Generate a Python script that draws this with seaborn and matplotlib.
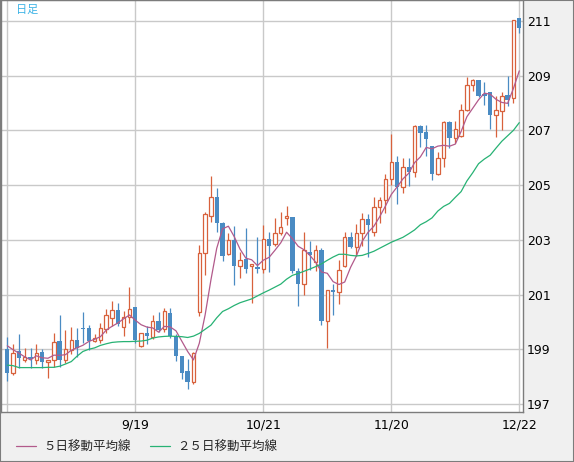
import numpy as np
import pandas as pd
import matplotlib
matplotlib.use("Agg")
import matplotlib.pyplot as plt
import matplotlib.font_manager as fm
from matplotlib.patches import Rectangle
import seaborn as sns

# ---------------- data ----------------
opens = [199.02, 198.13, 198.93, 198.60, 198.73, 198.60, 198.89, 198.53, 198.61, 199.29,
         198.61, 198.98, 199.33, 199.76, 199.76, 199.29, 199.33, 199.75, 200.15, 200.42,
         199.82, 200.19, 200.54, 199.12, 199.58, 199.45, 200.03, 199.73, 200.31, 199.48,
         198.75, 198.21, 197.82, 200.37, 202.52, 203.88, 204.58, 203.61, 202.48, 203.00,
         202.03, 202.30, 202.03, 201.99, 201.93, 203.04, 202.84, 203.24, 203.81, 203.82,
         201.85, 201.39, 202.55, 202.19, 202.64, 200.05, 201.15, 201.08, 202.03, 203.10,
         202.72, 203.24, 203.75, 203.27, 204.21, 204.45, 205.21, 205.85, 204.94, 205.67,
         205.48, 207.15, 206.94, 206.42, 205.42, 205.97, 207.30, 206.73, 206.78, 207.73,
         208.67, 208.84, 208.33, 208.39, 207.57, 207.70, 208.30, 208.17, 211.11]
highs = [199.46, 199.20, 199.55, 199.06, 199.06, 199.21, 199.02, 198.62, 199.61, 200.27,
         199.69, 199.82, 199.79, 200.36, 199.90, 199.55, 199.97, 200.48, 200.76, 200.70,
         200.39, 201.28, 200.55, 199.60, 199.85, 200.24, 200.36, 200.52, 200.52, 199.55,
         198.76, 198.64, 198.90, 202.82, 204.03, 205.33, 204.88, 203.65, 203.24, 203.51,
         202.54, 203.42, 202.12, 203.10, 203.55, 203.30, 203.79, 204.00, 204.24, 203.85,
         201.97, 203.27, 202.94, 202.82, 202.70, 201.15, 201.40, 202.25, 203.27, 203.30,
         203.56, 203.97, 203.95, 204.55, 204.55, 205.42, 206.88, 206.05, 205.97, 205.97,
         207.18, 207.18, 207.18, 206.42, 206.21, 207.33, 207.33, 207.33, 207.97, 208.94,
         208.88, 208.85, 208.76, 208.40, 208.27, 208.39, 209.00, 211.03, 211.12]
lows = [197.85, 198.07, 198.33, 198.52, 198.30, 198.47, 198.30, 197.95, 198.36, 198.37,
        198.49, 198.82, 198.73, 199.24, 198.98, 199.25, 199.24, 199.61, 199.85, 199.85,
        199.48, 199.97, 199.24, 199.10, 199.18, 199.36, 199.63, 199.63, 199.42, 198.58,
        197.92, 197.55, 197.73, 200.21, 201.73, 203.64, 203.30, 202.21, 202.45, 201.34,
        201.60, 201.79, 200.70, 201.80, 201.80, 201.82, 202.76, 203.18, 203.55, 201.80,
        200.58, 201.00, 201.91, 201.85, 199.88, 199.04, 200.27, 200.64, 202.00, 202.70,
        202.40, 202.76, 202.37, 203.12, 203.63, 203.97, 205.00, 204.31, 204.72, 204.96,
        205.30, 206.39, 206.05, 205.20, 205.38, 205.67, 206.37, 206.52, 206.75, 207.70,
        208.45, 208.21, 207.91, 207.06, 206.76, 207.02, 207.90, 207.99, 210.56]
closes = [198.13, 198.88, 198.68, 198.72, 198.64, 198.88, 198.52, 198.60, 199.28, 198.61,
          199.00, 199.33, 199.06, 199.73, 199.30, 199.41, 199.79, 200.27, 200.42, 199.91,
          200.18, 200.48, 199.33, 199.58, 199.48, 200.03, 199.70, 200.39, 199.48, 198.76,
          198.14, 197.82, 198.85, 202.52, 203.93, 204.55, 203.61, 202.39, 203.00, 202.03,
          202.27, 201.95, 202.10, 201.93, 203.02, 202.79, 203.24, 203.46, 203.87, 201.85,
          201.39, 202.61, 202.43, 202.64, 200.05, 201.15, 201.08, 201.91, 203.10, 202.72,
          203.24, 203.75, 203.55, 204.21, 204.45, 205.21, 205.85, 204.94, 205.67, 205.48,
          207.15, 206.90, 206.67, 205.42, 205.97, 207.30, 206.73, 207.06, 207.73, 208.67,
          208.84, 208.27, 208.27, 207.55, 207.73, 208.27, 208.10, 211.02, 210.74]
# closes of the four sessions just before the first visible one (for the 5-day average)
prior_closes = [199.60, 199.30, 199.40, 199.20]
ma25 = [198.42, 198.40, 198.33, 198.33, 198.33, 198.33, 198.33, 198.34, 198.34, 198.38,
        198.46, 198.55, 198.75, 198.92, 199.00, 199.05, 199.14, 199.20, 199.25, 199.27,
        199.28, 199.28, 199.29, 199.30, 199.33, 199.41, 199.45, 199.47, 199.48, 199.47,
        199.46, 199.43, 199.48, 199.58, 199.73, 199.88, 200.15, 200.38, 200.48, 200.60,
        200.70, 200.77, 200.84, 200.95, 201.06, 201.16, 201.27, 201.38, 201.56, 201.70,
        201.77, 201.85, 201.93, 202.02, 202.12, 202.25, 202.37, 202.47, 202.47, 202.43,
        202.41, 202.43, 202.50, 202.58, 202.69, 202.80, 202.91, 203.00, 203.09, 203.22,
        203.36, 203.55, 203.66, 203.80, 204.05, 204.22, 204.33, 204.55, 204.76, 205.15,
        205.45, 205.78, 205.95, 206.09, 206.35, 206.60, 206.80, 207.00, 207.28]

x_tick_pos = [0, 22, 44, 66, 88]
x_tick_labels = ["", "9/19", "10/21", "11/20", "12/22"]
y_ticks = [197, 199, 201, 203, 205, 207, 209, 211]
legend_labels = ["５日移動平均線", "２５日移動平均線"]
title_text = "日足"

# ---------------- style ----------------
UP = "#d8613c"
DOWN = "#4a8bc3"
MA5_C = "#b25a8b"
MA25_C = "#27b274"
GRID = "#c9c9c9"
FRAME = "#7c7c7c"

sns.set_theme(style="white")
plt.rcParams["font.family"] = ["DejaVu Sans", "Noto Sans CJK JP"]

W, H = 574, 462
fig = plt.figure(figsize=(W / 100, H / 100), dpi=100, facecolor="#f0f0f0")
ax = fig.add_axes([1 / W, (H - 412) / H, 522 / W, 412 / H])
ax.set_facecolor("white")

n = len(closes)
df = pd.DataFrame({"idx": np.arange(n), "open": opens, "high": highs,
                   "low": lows, "close": closes, "ma25": ma25})
all_close = pd.Series(prior_closes + closes)
df["ma5"] = all_close.rolling(5).mean().iloc[len(prior_closes):].to_numpy()

up = df["close"] >= df["open"]
# wicks
ax.vlines(df["idx"], df["low"], df["high"],
          colors=np.where(up, UP, DOWN), linewidth=0.9, zorder=2)
# bodies
ax.bar(df["idx"][up], (df["close"] - df["open"])[up].clip(lower=0.03),
       bottom=df["open"][up], width=0.6, facecolor="white",
       edgecolor=UP, linewidth=0.9, zorder=3)
ax.bar(df["idx"][~up], (df["open"] - df["close"])[~up].clip(lower=0.05),
       bottom=df["close"][~up], width=0.75, color=DOWN, linewidth=0, zorder=3)

# moving averages
sns.lineplot(data=df, x="idx", y="ma5", color=MA5_C, linewidth=0.9, ax=ax,
             label=legend_labels[0], zorder=4)
sns.lineplot(data=df, x="idx", y="ma25", color=MA25_C, linewidth=0.9, ax=ax,
             label=legend_labels[1], zorder=4)
handles, labels = ax.get_legend_handles_labels()
ax.get_legend().remove()

# axes
ax.set_xlim((1 - 7.3) / 5.818, (523 - 7.3) / 5.818)
ax.set_ylim(197 - 8 / 27.37, 197 + 404 / 27.37)
ax.set_xticks(x_tick_pos)
ax.set_xticklabels(x_tick_labels)
ax.set_yticks(y_ticks)
ax.set_yticklabels([str(v) for v in y_ticks])
ax.yaxis.tick_right()
ax.set_xlabel("")
ax.set_ylabel("")
ax.grid(True, color=GRID, linewidth=1)
ax.set_axisbelow(True)
ax.tick_params(axis="both", length=0, labelsize=9, labelcolor="black")
ax.tick_params(axis="y", pad=3)
ax.tick_params(axis="x", pad=5)
for s in ax.spines.values():
    s.set_visible(True)
    s.set_color(FRAME)
    s.set_linewidth(1)

# title inside plot
fig.text(16 / W, 1 - 10 / H, title_text, color="#3cb3e6", fontsize=8,
         va="center", ha="left", family=["Noto Sans CJK JP", "DejaVu Sans"])

# legend
leg_font = fm.FontProperties(family=["Noto Sans CJK JP", "DejaVu Sans"], size=9)
fig.legend(handles, labels, loc="center left",
           bbox_to_anchor=(16 / W, 1 - 447 / H), ncol=2, frameon=False,
           prop=leg_font, handlelength=1.6, handletextpad=0.6,
           columnspacing=1.5, borderpad=0, borderaxespad=0)

# outer frame
fig.add_artist(Rectangle((0, 0), 1, 1, transform=fig.transFigure, fill=False,
                         edgecolor=FRAME, linewidth=1.5))

fig.savefig("out.png", dpi=100, facecolor=fig.get_facecolor())
